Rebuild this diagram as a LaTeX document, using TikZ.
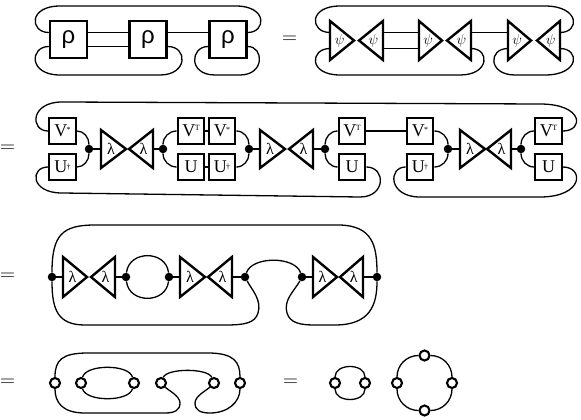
\documentclass[tikz,border=0pt]{standalone}
\usepackage{fontspec}
\setmainfont{Liberation Serif}
\newfontfamily\rhofont{Liberation Sans}
\newcommand\sups[2][6pt]{\kern-0.6pt\raisebox{#1}{\fontsize{8}{8}\selectfont #2}}
\newcommand\mytri[6]{%
  \coordinate (#1-b) at (#2,#4);
  \coordinate (#1-a) at (#3,#4);
  \draw[triedge] (#2,#4+#5) -- (#3,#4) -- (#2,#4-#5) -- cycle;
  \node[trilabel] (#1) at ({0.6*#2+0.4*#3},#4) {#6};
}
\begin{document}
\begin{tikzpicture}[x=1pt,y=1pt,
  wire/.style={line width=1.3pt},
  rbox/.style={draw, line width=2.5pt, minimum size=37pt, inner sep=0pt,
    font=\rhofont\fontsize{24}{24}\selectfont},
  ubox/.style={draw, line width=2.3pt, minimum size=26.5pt, inner sep=0pt,
    font=\fontsize{18}{18}\selectfont},
  triedge/.style={line width=2.4pt, line join=miter},
  trilabel/.style={inner sep=0pt, font=\fontsize{16}{16}\selectfont},
  dot/.style={circle, fill, inner sep=0pt, minimum size=8.5pt},
  odot/.style={circle, draw, fill=white, line width=2.1pt, inner sep=0pt, minimum size=10pt},
  eqs/.style={inner sep=0pt, font=\fontsize{20}{20}\selectfont}]
\useasboundingbox (0,0) rectangle (581,-420);

% ---------- row 1 ----------
\node[rbox] (r1) at (68.5,-39.5) {ρ};
\node[rbox] (r2) at (148,-39.5) {ρ};
\node[rbox] (r3) at (228,-39.5) {ρ};
\draw[wire] ([yshift=7pt]r1.east) -- ([yshift=7pt]r2.west);
\draw[wire] ([yshift=-7pt]r1.east) -- ([yshift=-7pt]r2.west);
\draw[wire] ([yshift=7pt]r2.east) -- ([yshift=7pt]r3.west);
\draw[wire] ([yshift=7pt]r1.west) .. controls (30,-32.5) and (28,-6) .. (60,-6) -- (236,-6) .. controls (268,-6) and (266,-32.5) .. ([yshift=7pt]r3.east);
\draw[wire] ([yshift=-7pt]r1.west) .. controls (30,-46.5) and (28,-75) .. (60,-75) -- (160,-75) .. controls (188,-75) and (188,-46.5) .. ([yshift=-7pt]r2.east);
\draw[wire] ([yshift=-7pt]r3.west) .. controls (190,-46.5) and (188,-75) .. (215,-75) -- (240,-75) .. controls (265,-75) and (264,-46.5) .. ([yshift=-7pt]r3.east);

\node[eqs] (eq1) at (289.5,-40) {$=$};

\begin{scope}[trilabel/.append style={font=\fontsize{15}{15}\selectfont}]
\mytri{p1}{330}{354}{-40.5}{19.5}{$\psi$}
\mytri{p2}{383}{359}{-40.5}{19.5}{$\psi$}
\mytri{p3}{419}{442}{-40.5}{19.5}{$\psi$}
\mytri{p4}{471}{447}{-40.5}{19.5}{$\psi$}
\mytri{p5}{508}{531}{-40.5}{19.5}{$\psi$}
\mytri{p6}{560}{537}{-40.5}{19.5}{$\psi$}
\end{scope}
\draw[wire] ([yshift=8pt]p2-b) -- ([yshift=8pt]p3-b);
\draw[wire] ([yshift=-8pt]p2-b) -- ([yshift=-8pt]p3-b);
\draw[wire] ([yshift=8pt]p4-b) -- ([yshift=8pt]p5-b);
\draw[wire] ([yshift=8pt]p1-b) .. controls (310,-32.5) and (308,-6) .. (340,-6) -- (545,-6) .. controls (580,-6) and (580,-32.5) .. ([yshift=8pt]p6-b);
\draw[wire] ([yshift=-8pt]p1-b) .. controls (310,-48.5) and (308,-75) .. (340,-75) -- (460,-75) .. controls (490,-75) and (490,-48.5) .. ([yshift=-8pt]p4-b);
\draw[wire] ([yshift=-8pt]p5-b) .. controls (488,-48.5) and (488,-75) .. (515,-75) -- (545,-75) .. controls (580,-75) and (580,-48.5) .. ([yshift=-8pt]p6-b);

% ---------- row 2 ----------
\node[eqs] (eq2) at (7.5,-149) {$=$};
\node[ubox] (av) at (62.5,-131) {V\sups[4pt]{*}};
\node[ubox] (au) at (62.5,-167) {U\sups[3.5pt]{†}};
\node[dot] (d1) at (89,-149) {};
\mytri{l1}{101}{126}{-149}{19}{λ}
\mytri{l2}{153}{129}{-149}{19}{λ}
\node[dot] (d2) at (163,-149) {};
\node[ubox] (bvt) at (191,-131) {V\sups{T}};
\node[ubox] (bvs) at (222,-131) {V\sups[4pt]{*}};
\node[ubox] (bu) at (191,-167) {U};
\node[ubox] (bud) at (222,-167) {U\sups[3.5pt]{†}};
\node[dot] (d3) at (249,-149) {};
\mytri{l3}{260}{285}{-149}{19}{λ}
\mytri{l4}{313}{289}{-149}{19}{λ}
\node[dot] (d4) at (325,-149) {};
\node[ubox] (cvt) at (352,-131) {V\sups{T}};
\node[ubox] (cu) at (352,-167) {U};
\node[ubox] (dvs) at (420,-131) {V\sups[4pt]{*}};
\node[ubox] (dud) at (420,-167) {U\sups[3.5pt]{†}};
\node[dot] (d5) at (448,-149) {};
\mytri{l5}{460}{485}{-149}{19}{λ}
\mytri{l6}{511}{487}{-149}{19}{λ}
\node[dot] (d6) at (521,-149) {};
\node[ubox] (evt) at (548.5,-131) {V\sups{T}};
\node[ubox] (eu) at (548.5,-167) {U};

\draw[wire] (av.east) to[out=0,in=90] (d1);
\draw[wire] (au.east) to[out=0,in=-90] (d1);
\draw[wire] (d1) -- (l1-b);
\draw[wire] (l2-b) -- (d2);
\draw[wire] (d2) to[out=90,in=180] (bvt.west);
\draw[wire] (d2) to[out=-90,in=180] (bu.west);
\draw[wire] (bvt) -- (bvs);
\draw[wire] (bu) -- (bud);
\draw[wire] (bvs.east) to[out=0,in=90] (d3);
\draw[wire] (bud.east) to[out=0,in=-90] (d3);
\draw[wire] (d3) -- (l3-b);
\draw[wire] (l4-b) -- (d4);
\draw[wire] (d4) to[out=90,in=180] (cvt.west);
\draw[wire] (d4) to[out=-90,in=180] (cu.west);
\draw[wire] (cvt) -- (dvs);
\draw[wire] (dvs.east) to[out=0,in=90] (d5);
\draw[wire] (dud.east) to[out=0,in=-90] (d5);
\draw[wire] (d5) -- (l5-b);
\draw[wire] (l6-b) -- (d6);
\draw[wire] (d6) to[out=90,in=180] (evt.west);
\draw[wire] (d6) to[out=-90,in=180] (eu.west);
\draw[wire] (av.west) .. controls (30,-131) and (30,-102) .. (62,-102) -- (540,-104) .. controls (584,-104) and (584,-131) .. (evt.east);
\draw[wire] (au.west) .. controls (30,-167) and (30,-193) .. (62,-193) -- (360,-197) .. controls (386,-197) and (386,-167) .. (cu.east);
\draw[wire] (dud.west) .. controls (388,-167) and (388,-197) .. (420,-197) -- (540,-197) .. controls (584,-197) and (584,-167) .. (eu.east);

% ---------- row 3 ----------
\node[eqs] (eq3) at (7.5,-277) {$=$};
\node[dot] (e1) at (52,-277) {};
\mytri{m1}{63}{87}{-277}{20}{λ}
\mytri{m2}{115}{91}{-277}{20}{λ}
\node[dot] (e2) at (126,-277) {};
\node[dot] (e3) at (169,-277) {};
\mytri{m3}{180}{205}{-277}{20}{λ}
\mytri{m4}{232}{208}{-277}{20}{λ}
\node[dot] (e4) at (245,-277) {};
\node[dot] (e5) at (302,-277) {};
\mytri{m5}{313}{337}{-277}{20}{λ}
\mytri{m6}{363}{340}{-277}{20}{λ}
\node[dot] (e6) at (377,-277) {};
\draw[wire] (e1) -- (m1-b);
\draw[wire] (m2-b) -- (e2);
\draw[wire] (e3) -- (m3-b);
\draw[wire] (m4-b) -- (e4);
\draw[wire] (e5) -- (m5-b);
\draw[wire] (m6-b) -- (e6);
\draw[wire] (e2) .. controls (129,-250) and (166,-250) .. (e3);
\draw[wire] (e2) .. controls (129,-304) and (166,-304) .. (e3);
\draw[wire] (e4) .. controls (252,-256) and (295,-256) .. (e5);
\draw[wire] (e1) .. controls (52,-235) and (62,-225) .. (95,-225) -- (340,-225) .. controls (372,-226) and (377,-245) .. (e6);
\draw[wire] (e4) .. controls (252,-290) and (262,-300) .. (258,-313) .. controls (255,-323) and (245,-325) .. (225,-325) -- (85,-325) .. controls (58,-325) and (52,-310) .. (e1);
\draw[wire] (e5) .. controls (295,-290) and (283,-300) .. (287,-313) .. controls (290,-323) and (300,-325) .. (315,-325) -- (335,-325) .. controls (370,-325) and (377,-305) .. (e6);

% ---------- row 4 ----------
\node[eqs] (eq4) at (7.5,-383) {$=$};
\node[odot] (o1) at (55,-383) {};
\node[odot] (o2) at (81,-383) {};
\node[odot] (o3) at (134,-383) {};
\node[odot] (o4) at (161,-383) {};
\node[odot] (o5) at (214,-383) {};
\node[odot] (o6) at (240,-383) {};
\draw[wire] (o2) .. controls (86,-364) and (129,-364) .. (o3);
\draw[wire] (o2) .. controls (86,-402) and (129,-402) .. (o3);
\draw[wire] (o4) .. controls (167,-368) and (208,-368) .. (o5);
\draw[wire] (o1) .. controls (55,-360) and (62,-353) .. (88,-353) -- (208,-353) .. controls (234,-353) and (240,-362) .. (o6);
\draw[wire] (o4) .. controls (168,-390) and (180,-396) .. (180,-403) .. controls (180,-410) and (175,-413) .. (165,-413) -- (85,-413) .. controls (62,-413) and (55,-402) .. (o1);
\draw[wire] (o5) .. controls (207,-390) and (195,-396) .. (195,-403) .. controls (195,-410) and (200,-413) .. (210,-413) .. controls (228,-413) and (240,-402) .. (o6);

\node[eqs] (eq5) at (290.5,-383) {$=$};
\node[odot] (s1) at (335,-383) {};
\node[odot] (s2) at (365,-383) {};
\draw[wire] (s1) .. controls (335,-363) and (365,-363) .. (s2);
\draw[wire] (s1) .. controls (335,-403) and (365,-403) .. (s2);
\node[odot] (q1) at (397,-383) {};
\node[odot] (q2) at (424.5,-355.5) {};
\node[odot] (q3) at (452,-383) {};
\node[odot] (q4) at (424.5,-410.5) {};
\draw[wire] (q1) to[out=90,in=180] (q2);
\draw[wire] (q2) to[out=0,in=90] (q3);
\draw[wire] (q3) to[out=-90,in=0] (q4);
\draw[wire] (q4) to[out=180,in=-90] (q1);
\end{tikzpicture}
\end{document}
